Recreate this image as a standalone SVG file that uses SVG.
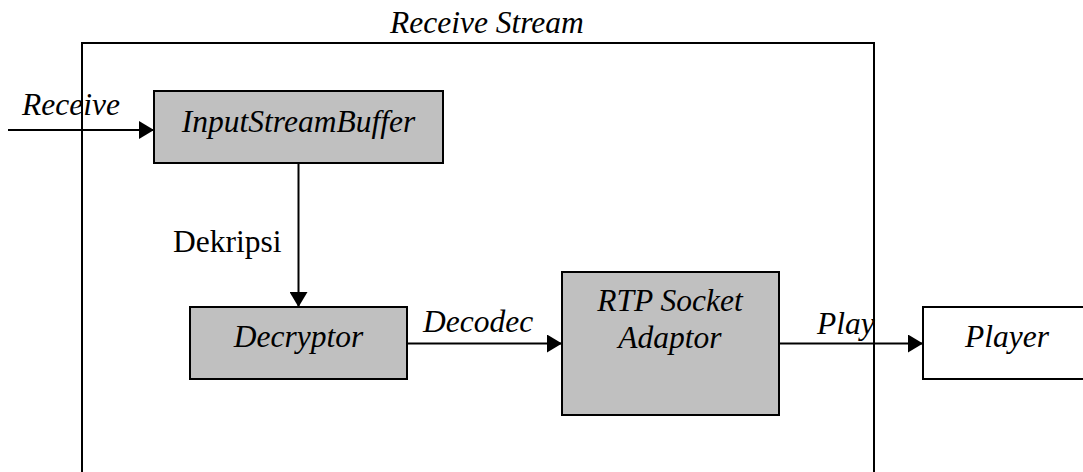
<svg xmlns="http://www.w3.org/2000/svg" width="1083" height="472" viewBox="0 0 1083 472">
  <style>
    .box { stroke: #000; stroke-width: 2; }
    .proc { fill: #c0c0c0; }
    .ext { fill: #fff; }
    .frame { fill: none; stroke: #000; stroke-width: 2; }
    .wire { fill: none; stroke: #000; stroke-width: 2; }
    .t { font-family: 'Liberation Serif', Tinos, 'Times New Roman', Times, 'Nimbus Roman', 'DejaVu Serif', serif; font-size: 31.5px; fill: #000; }
    .it { font-style: italic; }
    .mid { text-anchor: middle; }
  </style>
  <defs>
    <marker id="arrow" markerUnits="userSpaceOnUse" markerWidth="16" markerHeight="18" refX="15" refY="9" orient="auto">
      <path d="M0,0 L15,9 L0,18 Z" fill="#000"/>
    </marker>
  </defs>

  <!-- Receive Stream container -->
  <g id="receive-stream">
    <rect class="frame" x="82" y="43" width="792" height="450"/>
    <text class="t it" x="390" y="33">Receive Stream</text>
  </g>

  <!-- Connectors -->
  <g id="connectors">
    <line class="wire" x1="8" y1="130" x2="154" y2="130" marker-end="url(#arrow)"/>
    <text class="t it" x="22" y="115">Receive</text>

    <line class="wire" x1="298.5" y1="163" x2="298.5" y2="307" marker-end="url(#arrow)"/>
    <text class="t" x="173" y="252">Dekripsi</text>

    <line class="wire" x1="407" y1="343.5" x2="562" y2="343.5" marker-end="url(#arrow)"/>
    <text class="t it" x="423" y="332">Decodec</text>

    <line class="wire" x1="779" y1="343.5" x2="923" y2="343.5" marker-end="url(#arrow)"/>
    <text class="t it" x="817" y="334">Play</text>
  </g>

  <!-- Nodes -->
  <g id="input-stream-buffer">
    <rect class="box proc" x="154" y="91" width="289" height="72"/>
    <text class="t it mid" x="298.5" y="132">InputStreamBuffer</text>
  </g>

  <g id="decryptor">
    <rect class="box proc" x="190" y="307" width="217" height="72"/>
    <text class="t it mid" x="298.5" y="347">Decryptor</text>
  </g>

  <g id="rtp-socket-adaptor">
    <rect class="box proc" x="562" y="272" width="217" height="143"/>
    <text class="t it mid" x="670" y="311">RTP Socket</text>
    <text class="t it mid" x="670" y="348">Adaptor</text>
  </g>

  <g id="player">
    <rect class="box ext" x="923" y="307" width="180" height="72"/>
    <text class="t it" x="965" y="347">Player</text>
  </g>
</svg>
